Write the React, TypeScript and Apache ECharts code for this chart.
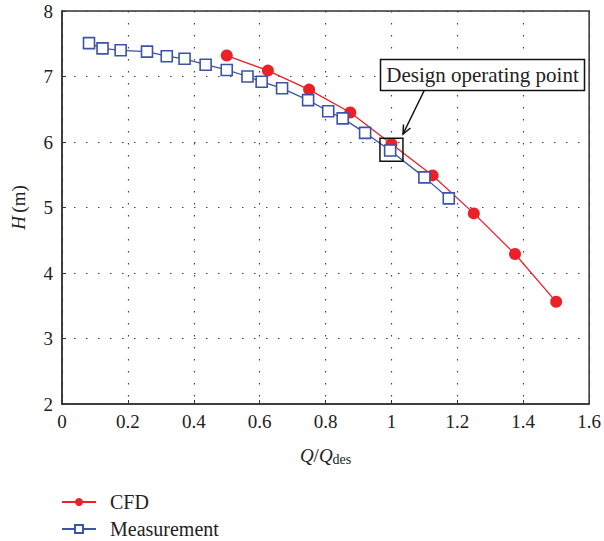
import React, { useEffect, useRef } from "react";
import * as echarts from "echarts";

const cfdQ = [0.5, 0.625, 0.75, 0.875, 1.0, 1.125, 1.25, 1.375, 1.5];
const cfdH = [7.32, 7.09, 6.8, 6.45, 5.97, 5.49, 4.91, 4.29, 3.56];

const measQ = [0.082, 0.123, 0.178, 0.258, 0.318, 0.372, 0.436, 0.5, 0.563, 0.606, 0.668, 0.747, 0.808, 0.852, 0.92, 0.996, 1.1, 1.174];
const measH = [7.51, 7.43, 7.4, 7.38, 7.31, 7.27, 7.18, 7.1, 7.0, 6.92, 6.82, 6.64, 6.47, 6.36, 6.14, 5.87, 5.46, 5.14];

const xTicks = [0, 0.2, 0.4, 0.6, 0.8, 1, 1.2, 1.4, 1.6];
const yTicks = [2, 3, 4, 5, 6, 7, 8];
const designPoint = [1.0, 5.88];

const FONT = "'Liberation Serif', 'DejaVu Serif', serif";
const TXT = "#222";
const RED = "#ec2027";
const BLUE = "#3a54a6";

export default function App() {
  const ref = useRef<HTMLDivElement>(null);
  useEffect(() => {
    if (!ref.current) return;
    const chart = echarts.init(ref.current, undefined, { renderer: "svg" });
    const gridDash = { color: "#444", width: 1.2, type: [1.5, 10.5] as any };
    const option: any = {
      animation: false,
      backgroundColor: "#fff",
      grid: {
        left: 62,
        right: 13,
        top: 11,
        bottom: 137,
        show: true,
        borderColor: "#333",
        borderWidth: 1.5,
        backgroundColor: "transparent",
      },
      xAxis: {
        type: "value",
        min: xTicks[0],
        max: xTicks[xTicks.length - 1],
        interval: 0.2,
        axisLine: { show: true, lineStyle: { color: "#333", width: 1.5 } },
        axisTick: { show: true, inside: true, length: 4, lineStyle: { color: "#333" } },
        splitLine: { show: true, lineStyle: gridDash },
        axisLabel: {
          fontFamily: FONT,
          fontSize: 19,
          color: TXT,
          margin: 8,
          formatter: (v: number) => String(Math.round(v * 10) / 10),
        },
        name: "{i|Q}{n|/}{i|Q}{s|des}",
        nameLocation: "middle",
        nameGap: 40,
        nameTextStyle: {
          rich: {
            i: { fontFamily: FONT, fontSize: 19, fontStyle: "italic", color: TXT },
            n: { fontFamily: FONT, fontSize: 19, color: TXT },
            s: { fontFamily: FONT, fontSize: 14, color: TXT, padding: [8, 0, 0, 0] },
          },
        },
      },
      yAxis: {
        type: "value",
        min: yTicks[0],
        max: yTicks[yTicks.length - 1],
        interval: 1,
        axisLine: { show: true, lineStyle: { color: "#333", width: 1.5 } },
        axisTick: { show: true, inside: true, length: 4, lineStyle: { color: "#333" } },
        splitLine: { show: true, lineStyle: gridDash },
        axisLabel: { fontFamily: FONT, fontSize: 19, color: TXT, margin: 9, verticalAlign: "middle" },
        name: "{i|H} {n|(m)}",
        nameLocation: "middle",
        nameGap: 34,
        nameRotate: 90,
        nameTextStyle: {
          rich: {
            i: { fontFamily: FONT, fontSize: 19, fontStyle: "italic", color: TXT },
            n: { fontFamily: FONT, fontSize: 19, color: TXT },
          },
        },
      },
      legend: {
        orient: "vertical",
        left: 61,
        top: 492,
        padding: 0,
        itemWidth: 34,
        itemHeight: 10,
        itemGap: 7,
        textStyle: { fontFamily: FONT, fontSize: 20, lineHeight: 20, color: TXT, padding: [0, 0, 0, 9] },
        data: ["CFD", "Measurement"],
      },
      series: [
        {
          name: "CFD",
          type: "line",
          data: cfdQ.map((q, i) => [q, cfdH[i]]),
          symbol: "circle",
          symbolSize: 12,
          lineStyle: { color: RED, width: 1.3 },
          itemStyle: { color: RED },
          z: 3,
        },
        {
          name: "Measurement",
          type: "line",
          data: measQ.map((q, i) => [q, measH[i]]),
          symbol: "rect",
          symbolSize: 11,
          lineStyle: { color: BLUE, width: 1.3 },
          itemStyle: { color: "#fff", borderColor: BLUE, borderWidth: 1.6 },
          z: 4,
          markPoint: {
            silent: true,
            symbol: "rect",
            symbolSize: 23,
            label: { show: false },
            itemStyle: { color: "rgba(0,0,0,0)", borderColor: "#111", borderWidth: 1.5 },
            data: [{ coord: designPoint }],
          },
        },
      ],
      graphic: [
        {
          type: "rect",
          shape: { x: 380.5, y: 59.5, width: 204, height: 31 },
          style: { fill: "#fff", stroke: "#111", lineWidth: 1.5 },
          z: 10,
        },
        {
          type: "text",
          x: 482.5,
          y: 75,
          style: {
            text: "Design operating point",
            fontFamily: FONT,
            fontSize: 21,
            fill: TXT,
            align: "center",
            verticalAlign: "middle",
          },
          z: 11,
        },
        {
          type: "line",
          shape: { x1: 424, y1: 91, x2: 403, y2: 134 },
          style: { stroke: "#111", lineWidth: 1.5 },
          z: 10,
        },
        {
          type: "polyline",
          shape: { points: [[403.5, 124.5], [403, 134], [410.5, 128]] },
          style: { stroke: "#111", lineWidth: 1.5, fill: "none" },
          z: 10,
        },
      ],
    };
    chart.setOption(option);
    return () => chart.dispose();
  }, []);
  return (
    <div
      ref={ref}
      style={{ position: "fixed", left: 0, top: 0, width: 604, height: 541 }}
    />
  );
}
